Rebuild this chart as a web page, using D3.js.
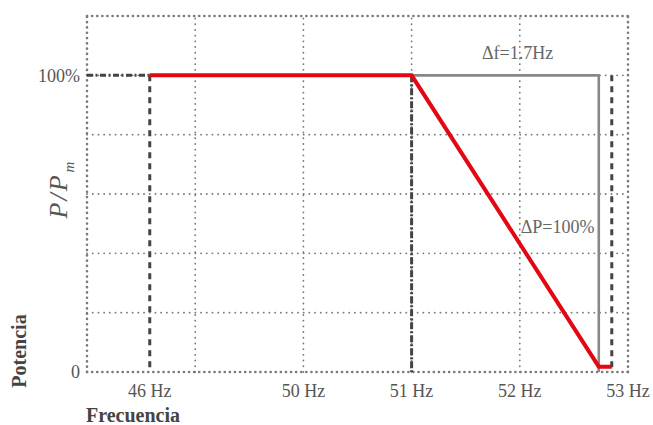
<!DOCTYPE html>
<html><head><meta charset="utf-8">
<script src="https://cdn.jsdelivr.net/npm/d3@7"></script>
<style>
html,body{margin:0;padding:0;background:#fff;}
svg text{font-family:"Liberation Serif","Times New Roman",serif;}
</style>
</head><body>
<svg id="chart" width="653" height="425"></svg>
<script>
// ---- data ----
const xTickLabels = ["46 Hz", "50 Hz", "51 Hz", "52 Hz", "53 Hz"];
const xTickPos    = [48.58, 50, 51, 52, 53];          // axis units (46 Hz is on a broken axis)
const xGrid       = [48, 49, 50, 51, 52, 53];
const yGrid       = [0, 0.2, 0.4, 0.6, 0.8, 1.0, 1.2];
const yTickValues = [0, 1];
const yTickLabels = ["0", "100%"];
const redF  = [48.58, 51, 52.73, 52.85];
const redP  = [1, 1, 0.018, 0.018];
const grayF = [51, 52.73, 52.73];
const grayP = [1, 1, 0];
const refDashedF = [48.58, 52.85];   // dashed verticals
const refDashDotF = [51];            // dash-dot vertical
const refHorizF = [48, 48.58];       // dash-dot horizontal at 100%

const svg = d3.select("#chart");
const x = d3.scaleLinear().domain([48, 53]).range([87, 628]);
const y = d3.scaleLinear().domain([0, 1.2]).range([372, 16]);

// grid
const isEdgeX = d => d === 48 || d === 53;
const isEdgeY = d => d === 0 || d === 1.2;
const g = svg.append("g");
g.selectAll(".vg").data(xGrid).join("line")
  .attr("x1", d => x(d)).attr("x2", d => x(d))
  .attr("y1", y(0)).attr("y2", y(1.2))
  .attr("stroke", "#7a7a7a")
  .attr("stroke-width", d => isEdgeX(d) ? 2.6 : 1.8)
  .attr("stroke-linecap", "round")
  .attr("stroke-dasharray", d => isEdgeX(d) ? "0.1,5.2" : "0.1,5.6");
g.selectAll(".hg").data(yGrid).join("line")
  .attr("x1", x(48)).attr("x2", x(53))
  .attr("y1", d => y(d)).attr("y2", d => y(d))
  .attr("stroke", "#7a7a7a")
  .attr("stroke-width", d => isEdgeY(d) ? 2.6 : 1.8)
  .attr("stroke-linecap", "round")
  .attr("stroke-dasharray", d => isEdgeY(d) ? "0.1,5" : "0.1,5.6");

// reference lines
svg.append("line")
  .attr("x1", x(refHorizF[0])).attr("x2", x(refHorizF[1]))
  .attr("y1", y(1)).attr("y2", y(1))
  .attr("stroke", "#444").attr("stroke-width", 3)
  .attr("stroke-dasharray", "6,2.5,2,2.5");
svg.selectAll(".dv").data(refDashedF).join("line")
  .attr("x1", d => x(d)).attr("x2", d => x(d))
  .attr("y1", y(1)).attr("y2", y(0))
  .attr("stroke", "#444").attr("stroke-width", 3)
  .attr("stroke-dasharray", "6,5");
svg.selectAll(".ddv").data(refDashDotF).join("line")
  .attr("x1", d => x(d)).attr("x2", d => x(d))
  .attr("y1", y(1)).attr("y2", y(0))
  .attr("stroke", "#444").attr("stroke-width", 3)
  .attr("stroke-dasharray", "7,2,2,2");

const line = d3.line().x(d => x(d[0])).y(d => y(d[1]));
svg.append("path")
  .attr("d", line(grayF.map((f, i) => [f, grayP[i]])))
  .attr("fill", "none").attr("stroke", "#888").attr("stroke-width", 2.6);
svg.append("path")
  .attr("d", line(redF.map((f, i) => [f, redP[i]])))
  .attr("fill", "none").attr("stroke", "#e30613").attr("stroke-width", 4)
  .attr("stroke-linejoin", "miter");

// tick labels
svg.selectAll(".xt").data(xTickLabels).join("text")
  .attr("x", (d, i) => x(xTickPos[i])).attr("y", 397)
  .attr("text-anchor", "middle").attr("font-size", 18).attr("fill", "#555")
  .text(d => d);
svg.selectAll(".yt").data(yTickLabels).join("text")
  .attr("x", 80).attr("y", (d, i) => y(yTickValues[i]))
  .attr("dy", "0.35em")
  .attr("text-anchor", "end").attr("font-size", 18).attr("fill", "#555")
  .text(d => d);

// annotations
svg.append("text").attr("x", x(51.98)).attr("y", 59)
  .attr("text-anchor", "middle").attr("font-size", 18).attr("fill", "#666")
  .text("Δf=1.7Hz");
svg.append("text").attr("x", x(52.69)).attr("y", 233)
  .attr("text-anchor", "end").attr("font-size", 18).attr("fill", "#666")
  .text("ΔP=100%");

// axis titles
svg.append("text").attr("x", 86).attr("y", 422)
  .attr("font-size", 20).attr("font-weight", "bold").attr("fill", "#444")
  .text("Frecuencia");
svg.append("text").attr("transform", "translate(26,351) rotate(-90)")
  .attr("text-anchor", "middle")
  .attr("font-size", 20).attr("font-weight", "bold").attr("fill", "#444")
  .text("Potencia");
const yl = svg.append("text").attr("transform", "translate(67,190) rotate(-90)")
  .attr("text-anchor", "middle")
  .attr("font-size", 26).attr("font-style", "italic").attr("fill", "#555");
yl.append("tspan").text("P");
yl.append("tspan").attr("dx", 2).text("/");
yl.append("tspan").attr("dx", 2).text("P");
yl.append("tspan").attr("dx", 3).attr("dy", 7).attr("font-size", 15).text("m");
</script>
</body></html>
